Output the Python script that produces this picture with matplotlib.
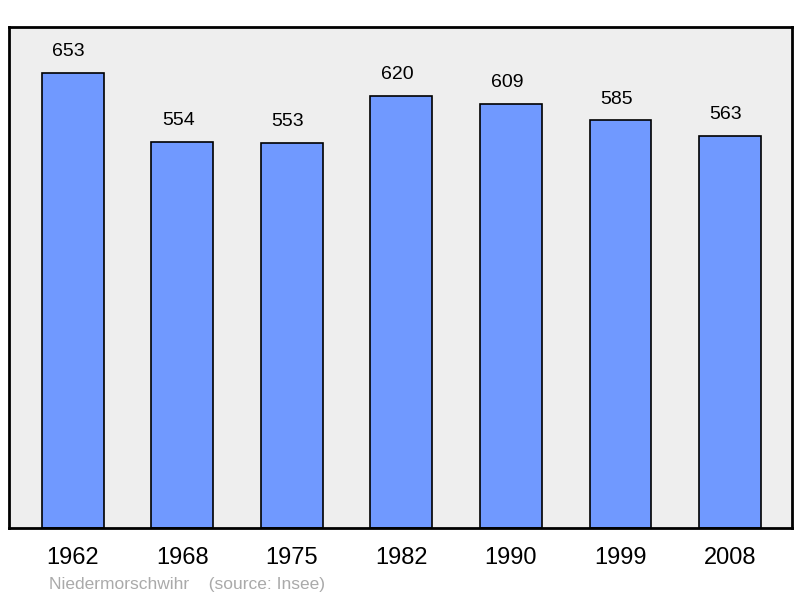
import matplotlib.pyplot as plt
import numpy as np

years = ["1962", "1968", "1975", "1982", "1990", "1999", "2008"]
population = [653, 554, 553, 620, 609, 585, 563]

plt.rcParams["font.family"] = ["Liberation Sans", "DejaVu Sans"]

fig = plt.figure(figsize=(8, 5.98), dpi=100)
ax = fig.add_axes([9 / 800, 70 / 598, 783 / 800, 501 / 598])
ax.set_facecolor("#eeeeee")

x = np.arange(len(years))
ax.bar(x, population, width=0.566, color="#7099ff", edgecolor="black", linewidth=1.2)

for xi, v in zip(x, population):
    ax.annotate(str(v), (xi, v), xytext=(-3, 9), textcoords="offset points",
                ha="center", va="bottom", fontsize=14)

ax.set_xlim(-0.584, 6.566)
ax.set_ylim(0, 719)
ax.set_yticks([])
ax.set_xticks(x)
ax.set_xticklabels(years, fontsize=17)
ax.tick_params(axis="x", length=0, pad=14)
for s in ax.spines.values():
    s.set_linewidth(2)

fig.text(49 / 800, 1 - 584 / 598, "Niedermorschwihr    (source: Insee)",
         color="#aaaaaa", fontsize=12.5, va="center")

fig.savefig("out.png")
